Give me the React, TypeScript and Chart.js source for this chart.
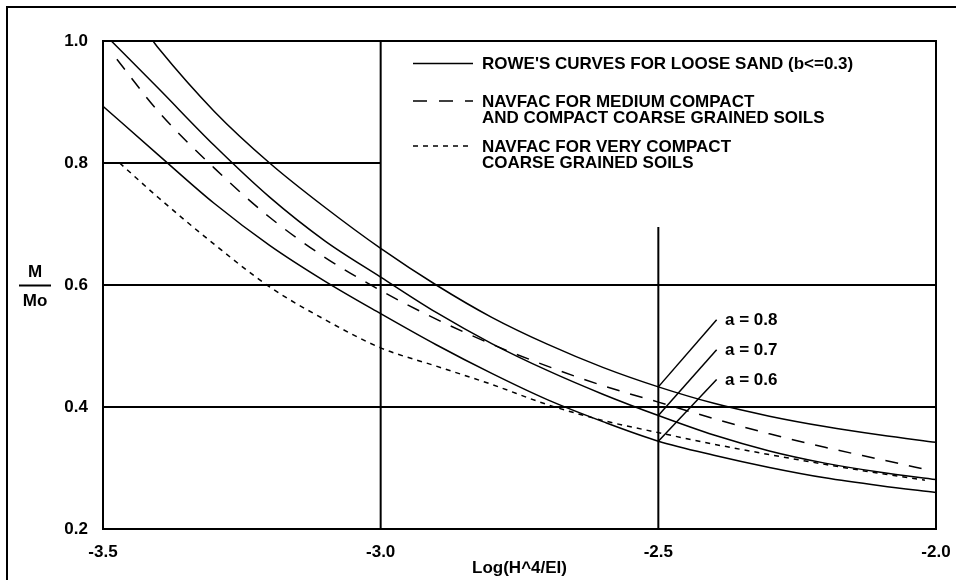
import React, { useEffect, useRef } from "react";
import { Chart, registerables } from "chart.js";

Chart.register(...registerables);

const FONT = '"Liberation Sans", Arial, Helvetica, sans-serif';
const WEIGHT = "bold";

// axis ticks
const xTickValues = [-3.5, -3.0, -2.5, -2.0];
const yTickValues = [0.2, 0.4, 0.6, 0.8, 1.0];

// Rowe's curves for loose sand (b<=0.3)
const roweA08: [number, number][] = [
  [-3.41, 1.0], [-3.4, 0.988], [-3.3, 0.885], [-3.2, 0.8], [-3.1, 0.727], [-3.0, 0.66],
  [-2.9, 0.6], [-2.8, 0.547], [-2.7, 0.503], [-2.6, 0.465], [-2.5, 0.433], [-2.4, 0.406],
  [-2.3, 0.385], [-2.2, 0.368], [-2.1, 0.354], [-2.0, 0.342],
];
const roweA07: [number, number][] = [
  [-3.485, 1.0], [-3.4, 0.922], [-3.3, 0.829], [-3.2, 0.744], [-3.1, 0.672], [-3.0, 0.613],
  [-2.9, 0.555], [-2.8, 0.504], [-2.7, 0.46], [-2.6, 0.421], [-2.5, 0.386], [-2.4, 0.354],
  [-2.3, 0.328], [-2.2, 0.308], [-2.1, 0.293], [-2.0, 0.281],
];
const roweA06: [number, number][] = [
  [-3.5, 0.893], [-3.4, 0.813], [-3.3, 0.734], [-3.2, 0.665], [-3.1, 0.606], [-3.0, 0.553],
  [-2.9, 0.502], [-2.8, 0.455], [-2.7, 0.412], [-2.6, 0.376], [-2.5, 0.344], [-2.4, 0.321],
  [-2.3, 0.301], [-2.2, 0.284], [-2.1, 0.271], [-2.0, 0.26],
];
// NAVFAC curves
const navfacMedium: [number, number][] = [
  [-3.475, 0.97], [-3.4, 0.884], [-3.3, 0.792], [-3.2, 0.711], [-3.1, 0.645], [-3.0, 0.591],
  [-2.9, 0.544], [-2.8, 0.503], [-2.7, 0.467], [-2.6, 0.435], [-2.5, 0.408], [-2.4, 0.381],
  [-2.3, 0.356], [-2.2, 0.334], [-2.1, 0.314], [-2.02, 0.298],
];
const navfacVeryCompact: [number, number][] = [
  [-3.47, 0.8], [-3.4, 0.743], [-3.3, 0.667], [-3.2, 0.597], [-3.1, 0.543], [-3.0, 0.497],
  [-2.9, 0.467], [-2.8, 0.437], [-2.7, 0.404], [-2.6, 0.378], [-2.5, 0.358], [-2.4, 0.339],
  [-2.3, 0.322], [-2.2, 0.306], [-2.1, 0.291], [-2.02, 0.28],
];

// reference lines
const hLineY = [0.8, 0.6, 0.4];
const hLineFrom = [-3.5, -3.5, -3.5];
const hLineTo = [-3.0, -2.0, -2.0];
const vLineX = [-3.0, -2.5];
const vLineFrom = [0.2, 0.2];
const vLineTo = [1.0, 0.695];

// "a =" annotations
const aLabels = ["a = 0.8", "a = 0.7", "a = 0.6"];
const pointerX0 = -2.5;
const pointerX1 = -2.395;
const pointerY0 = [0.433, 0.386, 0.344];
const pointerY1 = [0.543, 0.494, 0.445];
const aLabelX = -2.38;
const aLabelY = [0.5415, 0.4925, 0.4435];

// legend
const legendLines = [
  ["ROWE'S CURVES FOR LOOSE SAND (b<=0.3)"],
  ["NAVFAC FOR MEDIUM COMPACT", "AND COMPACT COARSE GRAINED SOILS"],
  ["NAVFAC FOR VERY COMPACT", "COARSE GRAINED SOILS"],
];
const legendDash: number[][] = [[], [14, 12], [5, 5]];

const xTitle = "Log(H^4/EI)";
const yTitleTop = "M";
const yTitleBottom = "Mo";

const toPts = (a: [number, number][]) => a.map(([x, y]) => ({ x, y }));

const decorPlugin = {
  id: "decor",
  beforeDraw(chart: any) {
    const { ctx } = chart;
    ctx.save();
    ctx.fillStyle = "#fff";
    ctx.fillRect(0, 0, chart.width, chart.height);
    ctx.restore();
  },
  afterDraw(chart: any) {
    const { ctx, chartArea: ca } = chart;
    const xs = chart.scales.x;
    const ys = chart.scales.y;
    ctx.save();
    ctx.strokeStyle = "#000";
    ctx.fillStyle = "#000";
    ctx.lineWidth = 2;
    ctx.setLineDash([]);
    // outer frame (left & top)
    ctx.beginPath();
    ctx.moveTo(7, chart.height);
    ctx.lineTo(7, 7);
    ctx.lineTo(chart.width, 7);
    ctx.stroke();
    // plot box
    ctx.strokeRect(ca.left, ca.top, ca.right - ca.left, ca.bottom - ca.top);

    // legend
    ctx.font = `${WEIGHT} 17px ${FONT}`;
    ctx.textBaseline = "middle";
    ctx.textAlign = "left";
    const lx0 = ca.left + 310;
    const lx1 = ca.left + 370;
    const tx = ca.left + 379;
    const rowY = [ca.top + 22.5, ca.top + 60, ca.top + 105];
    const lineGap = 16;
    legendLines.forEach((lines, i) => {
      ctx.lineWidth = 1.5;
      ctx.setLineDash(legendDash[i]);
      ctx.beginPath();
      ctx.moveTo(lx0, rowY[i]);
      ctx.lineTo(lx1, rowY[i]);
      ctx.stroke();
      ctx.setLineDash([]);
      lines.forEach((t, j) => ctx.fillText(t, tx, rowY[i] + 1 + j * lineGap));
    });

    // a = labels
    aLabels.forEach((t, i) => {
      ctx.fillText(t, xs.getPixelForValue(aLabelX), ys.getPixelForValue(aLabelY[i]));
    });

    // y title as fraction
    const ym = ys.getPixelForValue(0.6);
    const cx = 35;
    ctx.textAlign = "center";
    ctx.fillText(yTitleTop, cx, ym - 13);
    ctx.fillText(yTitleBottom, cx, ym + 16);
    ctx.lineWidth = 2;
    ctx.beginPath();
    ctx.moveTo(19, ym + 0.5);
    ctx.lineTo(51, ym + 0.5);
    ctx.stroke();
    ctx.restore();
  },
};

export default function App() {
  const ref = useRef<HTMLCanvasElement | null>(null);
  useEffect(() => {
    if (!ref.current) return;
    const refLine = (pts: { x: number; y: number }[]) => ({
      data: pts,
      borderColor: "#000",
      borderWidth: 2,
      pointRadius: 0,
      fill: false,
      tension: 0,
    });
    const curve = (pts: [number, number][], dash: number[]) => ({
      data: toPts(pts),
      borderColor: "#000",
      borderWidth: 1.5,
      borderDash: dash,
      pointRadius: 0,
      fill: false,
      cubicInterpolationMode: "monotone" as const,
    });
    const datasets: any[] = [
      curve(roweA08, []),
      curve(roweA07, []),
      curve(roweA06, []),
      curve(navfacMedium, [13, 11]),
      curve(navfacVeryCompact, [5, 5]),
    ];
    hLineY.forEach((yv, i) =>
      datasets.push(refLine([{ x: hLineFrom[i], y: yv }, { x: hLineTo[i], y: yv }]))
    );
    vLineX.forEach((xv, i) =>
      datasets.push(refLine([{ x: xv, y: vLineFrom[i] }, { x: xv, y: vLineTo[i] }]))
    );
    pointerY0.forEach((y0, i) => {
      const d = refLine([{ x: pointerX0, y: y0 }, { x: pointerX1, y: pointerY1[i] }]);
      d.borderWidth = 1.5;
      datasets.push(d);
    });

    const chart = new Chart(ref.current, {
      type: "line",
      data: { datasets },
      options: {
        animation: false,
        responsive: false,
        devicePixelRatio: 1,
        layout: { padding: { left: 43, right: 20, top: 41, bottom: 1 } },
        plugins: { legend: { display: false }, tooltip: { enabled: false } },
        scales: {
          x: {
            type: "linear",
            min: -3.5,
            max: -2.0,
            afterFit: (s: any) => {
              s.height = 50;
              s.paddingLeft = 0;
              s.paddingRight = 0;
            },
            afterBuildTicks: (s: any) => {
              s.ticks = xTickValues.map((v) => ({ value: v }));
            },
            grid: { display: false, drawTicks: false },
            border: { display: false },
            ticks: {
              padding: 13,
              color: "#000",
              font: { family: FONT, size: 17, weight: WEIGHT },
              maxRotation: 0,
              callback: (v: any) => Number(v).toFixed(1),
            },
            title: {
              display: true,
              text: xTitle,
              color: "#000",
              font: { family: FONT, size: 17, lineHeight: 1, weight: WEIGHT },
              padding: { top: 0, bottom: 2 },
            },
          },
          y: {
            type: "linear",
            min: 0.2,
            max: 1.0,
            afterFit: (s: any) => {
              s.width = 60;
              s.paddingTop = 0;
              s.paddingBottom = 0;
            },
            afterBuildTicks: (s: any) => {
              s.ticks = yTickValues.map((v) => ({ value: v }));
            },
            grid: { display: false, drawTicks: false },
            border: { display: false },
            ticks: {
              padding: 15,
              color: "#000",
              font: { family: FONT, size: 17, weight: WEIGHT },
              callback: (v: any) => Number(v).toFixed(1),
            },
          },
        },
      },
      plugins: [decorPlugin],
    });
    return () => chart.destroy();
  }, []);

  return (
    <div style={{ position: "fixed", left: 0, top: 0, width: 956, height: 580, background: "#fff" }}>
      <canvas ref={ref} width={956} height={580} style={{ width: 956, height: 580, display: "block" }} />
    </div>
  );
}
